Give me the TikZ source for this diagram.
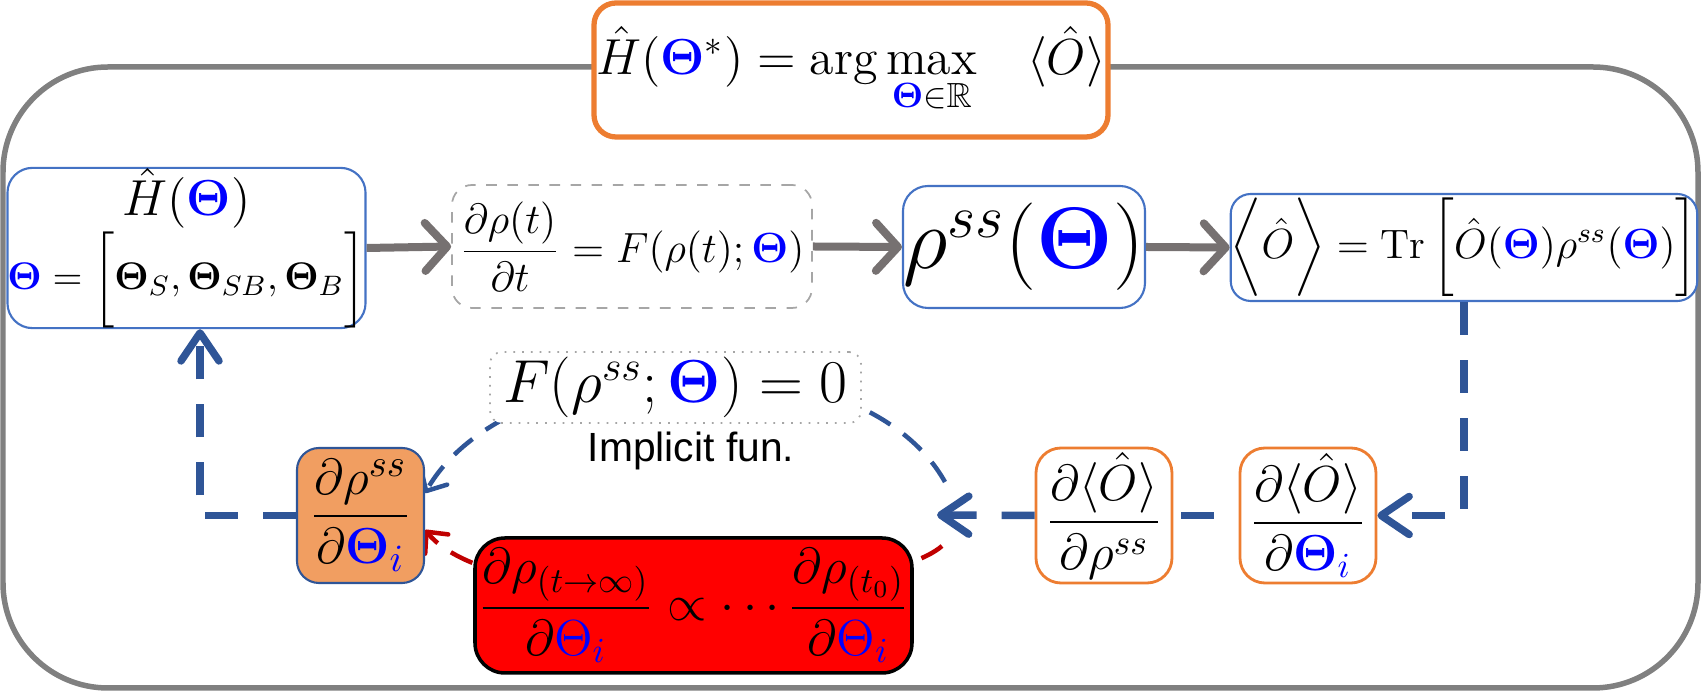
\documentclass[tikz,border=0pt]{standalone}
\usepackage{amsmath,amssymb,bm}
\usepackage{fontspec}
\newfontfamily\labelfont{Liberation Sans}
\usetikzlibrary{arrows.meta,positioning,backgrounds}
\definecolor{boxblue}{HTML}{4472C4}
\definecolor{arrblue}{HTML}{2F5597}
\definecolor{boxorange}{HTML}{ED7D31}
\definecolor{fillorange}{HTML}{F19E61}
\definecolor{arrgray}{HTML}{767171}
\definecolor{framegray}{HTML}{808080}
\definecolor{darkred}{HTML}{C00000}
\newcommand{\bth}{\textcolor{blue}{\bm{\Theta}}}
\newcommand{\thidx}{\textcolor{blue}{i}}

\begin{document}
\begin{tikzpicture}[
  blbox/.style={draw=boxblue, line width=0.6pt, rounded corners=0.25cm, fill=white,
    inner sep=0pt, align=center},
  orbox/.style={draw=boxorange, line width=0.8pt, rounded corners=0.25cm, fill=white,
    inner sep=0pt, minimum width=1.36cm, minimum height=1.35cm,
    font=\fontsize{14}{16}\selectfont},
  goal/.style={draw=boxorange, line width=1.5pt, rounded corners=0.22cm, fill=white,
    inner sep=0pt, minimum width=5.14cm, minimum height=1.34cm,
    font=\fontsize{14.2}{17}\selectfont},
  garr/.style={-{Straight Barb[length=0.22cm, width=0.48cm, round]}, arrgray, line width=0.08cm},
  bline/.style={arrblue, line width=0.075cm, dash pattern=on 0.33cm off 0.25cm},
  barr/.style={bline, -{Straight Barb[length=0.28cm, width=0.38cm, round]}},
  tarr/.style={-{Straight Barb[length=0.16cm, width=0.3cm, round]}, arrblue, line width=0.045cm,
    dash pattern=on 0.24cm off 0.16cm},
  rarr/.style={tarr, darkred},
]
\useasboundingbox (0,0) rectangle (17.02,6.93);
\node[goal] (goal) at (8.51,6.23)
  {$\hat{H}(\bth^{*}) = \arg\max\limits_{\bth\in\mathbb{R}}\quad\langle\hat{O}\rangle$};
\node[blbox, minimum width=3.45cm, minimum height=1.48cm, font=\fontsize{11.4}{13}\selectfont] (ham) at (1.865,4.45)
  {{\fontsize{15.5}{18}\selectfont$\hat{H}(\bth)$}\\
   $\bth=\bigg[\bm{\Theta}_{S},\bm{\Theta}_{SB},\bm{\Theta}_{B}\bigg]$};
\node[draw=gray!70, dashed, rounded corners=0.2cm, line width=0.5pt, inner sep=0pt,
  minimum width=3.6cm, minimum height=1.23cm, font=\fontsize{12.5}{15}\selectfont] (ode) at (6.32,4.465)
  {$\dfrac{\partial\rho(t)}{\partial t}=F(\rho(t);\bth)$};
\node[blbox, minimum width=2.42cm, minimum height=1.22cm, font=\fontsize{24}{28}\selectfont] (rho) at (10.24,4.46)
  {$\rho^{ss}(\bth)$};
\node[blbox, rounded corners=0.2cm, minimum width=4.5cm, minimum height=1.07cm,
  font=\fontsize{11.7}{14}\selectfont] (obs) at (14.64,4.455)
  {$\bigg\langle\hat{O}\bigg\rangle=\operatorname{Tr}\bigg[\hat{O}(\bth)\rho^{ss}(\bth)\bigg]$};
\node[draw=gray!70, dotted, rounded corners=0.12cm, line width=0.5pt, fill=white, inner sep=0pt,
  minimum width=3.71cm, minimum height=0.71cm, font=\fontsize{16.5}{19}\selectfont] (impl) at (6.755,3.055)
  {$F(\rho^{ss};\bth)=0$};
\node[below=0.07cm of impl, xshift=0.155cm, inner sep=0pt, font=\labelfont\fontsize{11.6}{14}\selectfont] (impllab)
  {Implicit fun.};
\node[draw=arrblue, line width=0.6pt, rounded corners=0.22cm, fill=fillorange, inner sep=0pt,
  minimum width=1.27cm, minimum height=1.35cm, font=\fontsize{15.5}{18}\selectfont] (drho) at (3.605,1.775)
  {$\dfrac{\partial\rho^{ss}}{\partial\bth_{\thidx}}$};
\node[draw=black, line width=1pt, rounded corners=0.3cm, fill=red, inner sep=0pt,
  minimum width=4.37cm, minimum height=1.35cm, font=\fontsize{14}{17}\selectfont] (chain) at (6.935,0.875)
  {$\dfrac{\partial\rho_{(t\to\infty)}}{\partial{\color{blue}\Theta}_{\thidx}}\propto\cdots
    \dfrac{\partial\rho_{(t_0)}}{\partial{\color{blue}\Theta}_{\thidx}}$};
\node[orbox] (dOdrho) at (11.04,1.775) {$\dfrac{\partial\langle\hat{O}\rangle}{\partial\rho^{ss}}$};
\node[orbox] (dOdth) at (13.08,1.775) {$\dfrac{\partial\langle\hat{O}\rangle}{\partial\bth_{\thidx}}$};
\coordinate (merge) at (9.37,1.78);
\coordinate (splitup) at (9.45,2.11);
\coordinate (splitdn) at (9.42,1.47);
% forward chain
\draw[garr] (ham.east) -- (ode.west);
\draw[garr] (ode.east) -- (rho.west);
\draw[garr] (rho.east) -- (obs.west);
% gradient back
\draw[barr] (obs.south) |- (dOdth.east);
\draw[bline, dash phase=0.33cm] (dOdth.west) -- (dOdrho.east);
\draw[barr] (dOdrho.west) -- (merge);
\draw[barr] (drho.west) -| ([xshift=0.135cm]ham.south);
\begin{scope}[on background layer]
\draw[framegray, line width=0.055cm, rounded corners=1.05cm] (0.03,0.05) rectangle (16.98,6.26);
\draw[tarr] (splitup) .. controls (8.6,3.63) and (5.1,3.48) .. ([yshift=0.225cm]drho.east);
\draw[rarr] (splitdn) .. controls (8.8,0.93) and (5.0,0.73) .. ([yshift=-0.145cm]drho.east);
\end{scope}
\end{tikzpicture}
\end{document}
